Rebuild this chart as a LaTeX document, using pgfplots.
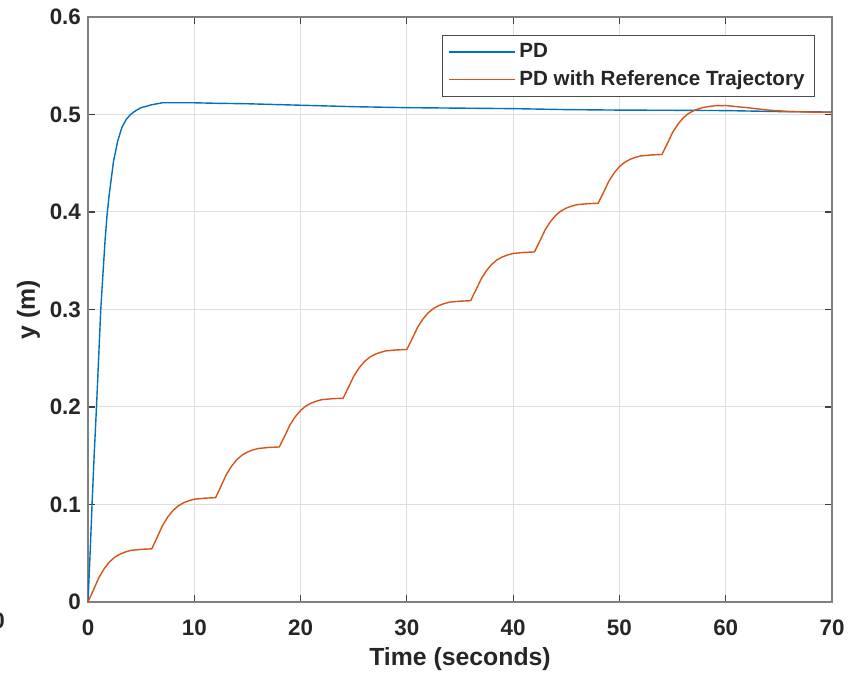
\documentclass[border=0pt]{standalone}
\usepackage{pgfplots}
\pgfplotsset{compat=1.18}
\usepackage{fontspec}
\setmainfont{Liberation Sans}
\definecolor{mblue}{rgb}{0,0.447,0.741}
\definecolor{morange}{rgb}{0.85,0.325,0.098}
\definecolor{txt}{rgb}{0.15,0.15,0.15}
\begin{document}
\begin{tikzpicture}
\begin{axis}[
    name=main,
    scale only axis,
    width=372pt, height=292.5pt,
    xmin=0, xmax=70, ymin=0, ymax=0.6,
    xtick={0,10,...,70},
    ytick={0,0.1,0.2,0.3,0.4,0.5,0.6},
    /pgf/number format/assume math mode=true,
    yticklabel style={/pgf/number format/fixed, /pgf/number format/precision=1},
    tick label style={font=\fontsize{11.2}{13}\selectfont\bfseries, text=txt},
    xticklabel style={yshift=-5.5pt, inner xsep=0pt},
    label style={font=\fontsize{12.4}{14}\selectfont\bfseries, text=txt},
    xlabel={Time (seconds)},
    ylabel={y (m)},
    xlabel style={yshift=1pt},
    ylabel style={yshift=-2pt},
    grid=major,
    major grid style={black!13, line width=0.5pt},
    axis line style={black!50, line width=0.6pt},
    tick style={black!75, line width=0.6pt},
    tick align=inside,
    major tick length=3.5pt,
    legend style={at={(axis description cs:1,1)}, anchor=north east,
        xshift=-8.5pt, yshift=-9pt, draw=black!70, line width=0.5pt,
        font=\fontsize{10.3}{12}\selectfont\bfseries, text=txt,
        row sep=1pt, inner xsep=3pt, inner ysep=2pt, cells={anchor=west}},
    legend image code/.code={\draw[#1, line width=0.7pt] (0pt,0pt) -- (33pt,0pt);},
]
\addplot[mblue, line width=0.7pt] coordinates {
(0,0) (0.2,0.05) (0.4,0.105) (0.6,0.155) (0.8,0.2) (1.0,0.25) (1.2,0.3)
(1.4,0.335) (1.6,0.37) (1.8,0.398) (2.0,0.418) (2.4,0.452) (2.8,0.473)
(3.2,0.487) (3.6,0.495) (4.0,0.5) (4.5,0.504) (5,0.507) (6,0.510)
(7,0.512) (8,0.512) (10,0.512) (12,0.5115) (15,0.511) (20,0.5095)
(25,0.508) (30,0.507) (35,0.5065) (40,0.506) (45,0.505) (50,0.5045)
(55,0.5043) (60,0.504) (65,0.503) (70,0.5025)
};
\addlegendentry{PD}
\addplot[morange, line width=0.7pt] coordinates {
(0,0) (0.5,0.0120) (1,0.0245) (1.5,0.0338) (2,0.0409) (2.5,0.0458) (3,0.0491) (3.5,0.0512) (4,0.0529) (5,0.0540) (6,0.0545)
(6.5,0.0661) (7,0.0781) (7.5,0.0871) (8,0.0939) (8.5,0.0986) (9,0.1018) (9.5,0.1039) (10,0.1054) (11,0.1065) (12,0.1070)
(12.5,0.1184) (13,0.1304) (13.5,0.1392) (14,0.146) (14.5,0.1507) (15,0.1538) (15.5,0.1559) (16,0.1574) (17,0.1585) (18,0.159)
(18.5,0.170) (19,0.1815) (19.5,0.190) (20,0.1965) (20.5,0.201) (21,0.204) (21.5,0.206) (22,0.2075) (23,0.2085) (24,0.209)
(24.5,0.220) (25,0.2315) (25.5,0.240) (26,0.2465) (26.5,0.251) (27,0.254) (27.5,0.256) (28,0.2575) (29,0.2585) (30,0.259)
(30.5,0.270) (31,0.2815) (31.5,0.290) (32,0.2965) (32.5,0.301) (33,0.304) (33.5,0.306) (34,0.3075) (35,0.3085) (36,0.309)
(36.5,0.320) (37,0.3315) (37.5,0.340) (38,0.3465) (38.5,0.351) (39,0.354) (39.5,0.356) (40,0.3575) (41,0.3585) (42,0.359)
(42.5,0.370) (43,0.3815) (43.5,0.390) (44,0.3965) (44.5,0.401) (45,0.404) (45.5,0.406) (46,0.4075) (47,0.4085) (48,0.409)
(48.5,0.420) (49,0.4315) (49.5,0.440) (50,0.4465) (50.5,0.451) (51,0.454) (51.5,0.456) (52,0.4575) (53,0.4585) (54,0.459)
(54.5,0.470) (55,0.4815) (55.5,0.490) (56,0.4965) (56.5,0.501) (57,0.504) (57.5,0.506) (58,0.5075) (59,0.509) (60,0.5092)
(62,0.507) (64,0.5045) (66,0.503) (68,0.5025) (70,0.5022)
};
\addlegendentry{PD with Reference Trajectory}
\end{axis}
% stray, cut-off label at the left edge of the reference
\node[overlay, inner sep=0pt, font=\fontsize{11.2}{13}\selectfont\bfseries, text=txt]
    at ([xshift=-44.7pt,yshift=-9.5pt]main.south west) {0};
\path ([xshift=-44pt,yshift=-36.5pt]main.south west)
    rectangle ([xshift=8pt,yshift=8.5pt]main.north east);
\end{tikzpicture}
\end{document}
